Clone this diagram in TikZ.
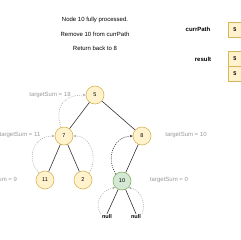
\documentclass[tikz,border=0pt]{standalone}
\usepackage{fontspec}
\setmainfont{Liberation Sans}
\usetikzlibrary{arrows.meta}
\definecolor{yfill}{HTML}{FFF2CC}
\definecolor{ydraw}{HTML}{D6B656}
\definecolor{gfill}{HTML}{D5E8D4}
\definecolor{gdraw}{HTML}{82B366}
\definecolor{txtgray}{HTML}{999999}
\definecolor{edge}{HTML}{333333}
\tikzset{
  tnode/.style={circle,draw=ydraw,fill=yfill,line width=0.6pt,minimum size=18pt,inner sep=0pt,font=\fontsize{5.5}{6}\selectfont},
  gnode/.style={tnode,draw=gdraw,fill=gfill},
  captxt/.style={font=\fontsize{6}{7}\selectfont,text=black},
  gtxt/.style={font=\fontsize{6}{7}\selectfont,text=txtgray},
  nulltxt/.style={font=\fontsize{5.5}{6}\selectfont\bfseries,inner sep=1pt},
  lbl/.style={font=\fontsize{6}{7}\selectfont\bfseries},
  arrbox/.style={draw=ydraw,fill=yfill,line width=0.6pt,minimum width=14pt,minimum height=15pt,inner sep=0pt,font=\fontsize{5.5}{6}\selectfont\bfseries},
  tedge/.style={draw=edge,line width=0.6pt},
  garrow/.style={draw=txtgray!80,line width=0.6pt,dash pattern=on 1pt off 1.2pt,-{Stealth[length=3pt,width=2.6pt]}},
  darrow/.style={draw=edge,line width=0.6pt,dash pattern=on 1pt off 1.2pt,-{Stealth[length=3pt,width=2.6pt]}},
}
\begin{document}
\begin{tikzpicture}[x=1pt,y=-1pt]
\useasboundingbox (0,0) rectangle (240,240);
% captions
\node[captxt] (c1) at (95,20) {Node 10 fully processed.};
\node[captxt] (c2) at (95,34) {Remove 10 from currPath};
\node[captxt] (c3) at (95,48) {Return back to 8};
% arrays
\node[lbl] (lcp) at (198,29) {currPath};
\node[arrbox] (cp1) at (235,29.5) {5};
\node[lbl] (lres) at (203,59) {result};
\node[arrbox] (r1) at (235,58.5) {5};
\node[arrbox] (r2) at (235,73.5) {5};
% tree nodes
\node[tnode] (n5) at (95,95) {5};
\node[tnode] (n7) at (64,136) {7};
\node[tnode] (n8) at (142,136) {8};
\node[tnode] (n11) at (45,180) {11};
\node[tnode] (n2) at (83,180) {2};
\node[gnode] (n10) at (122,181) {10};
\node[nulltxt] (nl) at (107,217) {null};
\node[nulltxt] (nr) at (136,217) {null};
% tree edges
\draw[tedge] (n5) -- (n7);
\draw[tedge] (n5) -- (n8);
\draw[tedge] (n7) -- (n11);
\draw[tedge] (n7) -- (n2);
\draw[tedge] (n8) -- (n10);
\draw[tedge] (n10) -- (nl.north);
\draw[tedge] (n10) -- (nr.north);
% targetSum labels
\node[gtxt] (t18) at (50,95) {targetSum = 18};
\node[gtxt] (t11) at (20,135) {targetSum = 11};
\node[gtxt] (t9) at (-2,180) {targetSum = 9};
\node[gtxt] (t10) at (186,135) {targetSum = 10};
\node[gtxt] (t0) at (169,180) {targetSum = 0};
% return arrows
\draw[garrow] (n7.110) .. controls (55,108) and (62,95) .. (n5.west);
\draw[garrow] (n11.130) .. controls (26,160) and (32,136) .. (n7.west);
\draw[garrow] (n2.50) .. controls (98,160) and (92,136) .. (n7.east);
\draw[darrow] (n10.130) .. controls (106,160) and (112,137) .. (n8.west);
\draw[garrow] (nl.north west) .. controls (94,205) and (100,190) .. (n10.225);
\draw[garrow] (nr.north east) .. controls (146,205) and (142,190) .. (n10.315);
\end{tikzpicture}
\end{document}
